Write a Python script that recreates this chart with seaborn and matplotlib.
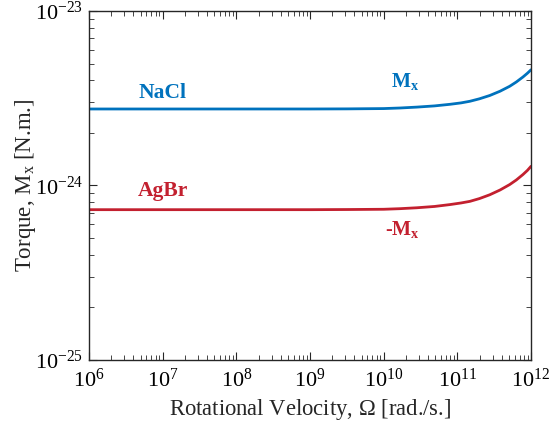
import numpy as np
import pandas as pd
import matplotlib
matplotlib.use("Agg")
import matplotlib.pyplot as plt
import seaborn as sns
from matplotlib.ticker import LogLocator, NullFormatter

# values (x as log10 of rad/s)
log_omega = [6, 7, 8, 9, 9.5, 10, 10.22, 10.45, 10.69, 10.9, 11.05, 11.17, 11.3,
             11.44, 11.58, 11.71, 11.8, 11.89, 11.95, 12]
nacl_mx = [2.744e-24, 2.744e-24, 2.744e-24, 2.744e-24, 2.748e-24, 2.759e-24, 2.780e-24,
           2.813e-24, 2.858e-24, 2.919e-24, 2.974e-24, 3.038e-24, 3.139e-24, 3.279e-24,
           3.470e-24, 3.702e-24, 3.918e-24, 4.184e-24, 4.395e-24, 4.603e-24]
agbr_neg_mx = [7.266e-25, 7.266e-25, 7.266e-25, 7.266e-25, 7.28e-25, 7.305e-25, 7.362e-25,
               7.451e-25, 7.581e-25, 7.772e-25, 7.939e-25, 8.109e-25, 8.413e-25, 8.846e-25,
               9.423e-25, 10.12e-25, 10.75e-25, 11.55e-25, 12.19e-25, 12.88e-25]

x_decades = [6, 7, 8, 9, 10, 11, 12]
y_decades = [-25, -24, -23]

blue = "#0072BD"
red = "#C3202F"

sns.set_style("ticks")
plt.rcParams["font.family"] = ["Liberation Serif", "DejaVu Serif"]
plt.rcParams["mathtext.fontset"] = "custom"
plt.rcParams["mathtext.rm"] = "Liberation Serif"
plt.rcParams["mathtext.it"] = "Liberation Serif:italic"
plt.rcParams["mathtext.bf"] = "Liberation Serif:bold"

omega = [10 ** v for v in log_omega]
df = pd.DataFrame({
    "omega": omega * 2,
    "torque": nacl_mx + agbr_neg_mx,
    "material": ["NaCl"] * len(omega) + ["AgBr"] * len(omega),
})

fig = plt.figure(figsize=(5.5, 4.28), dpi=100)
ax = fig.add_axes([0.162, 0.159, 0.8035, 0.8153])

sns.lineplot(data=df, x="omega", y="torque", hue="material",
             palette={"NaCl": blue, "AgBr": red}, linewidth=2.0,
             legend=False, ax=ax)

ax.set_xscale("log")
ax.set_yscale("log")
ax.set_xlim(1e6, 1e12)
ax.set_ylim(1e-25, 1e-23)

ax.set_xticks([10.0 ** d for d in x_decades], [rf"$10^{{{d}}}$" for d in x_decades])
ax.set_yticks([10.0 ** d for d in y_decades], [rf"$10^{{{d}}}$" for d in y_decades])
ax.xaxis.set_minor_locator(LogLocator(base=10, subs=np.arange(2, 10), numticks=100))
ax.yaxis.set_minor_locator(LogLocator(base=10, subs=np.arange(2, 10), numticks=100))
ax.xaxis.set_minor_formatter(NullFormatter())
ax.yaxis.set_minor_formatter(NullFormatter())

ax.tick_params(which="both", direction="in", top=True, right=True,
               colors="#262626", labelcolor="black", labelsize=16)
ax.tick_params(which="major", length=6, width=0.8, pad=4)
ax.tick_params(axis="x", which="major", pad=6)
ax.tick_params(which="minor", length=3.5, width=0.6)
for sp in ax.spines.values():
    sp.set_visible(True)
    sp.set_linewidth(1.0)
    sp.set_color("#262626")

ax.set_xlabel(r"Rotational Velocity, $\Omega$ [rad./s.]", fontsize=16.3, labelpad=4)
ax.set_ylabel(r"Torque, M$_\mathrm{x}$ [N.m.]", fontsize=16.5, labelpad=-2)

ax.text(1e7, 3.4e-24, "NaCl", color=blue, fontsize=15.5, fontweight="bold",
        ha="center", va="center")
ax.text(1e7, 9.3e-25, "AgBr", color=red, fontsize=15.5, fontweight="bold",
        ha="center", va="center")
ax.text(1.95e10, 3.95e-24, r"$\mathbf{M}_\mathbf{x}$", color=blue, fontsize=14.5,
        ha="center", va="center")
ax.text(1.8e10, 5.6e-25, r"-$\mathbf{M}_\mathbf{x}$", color=red, fontsize=14.5,
        fontweight="bold", ha="center", va="center")

fig.savefig("out.png", dpi=100)
